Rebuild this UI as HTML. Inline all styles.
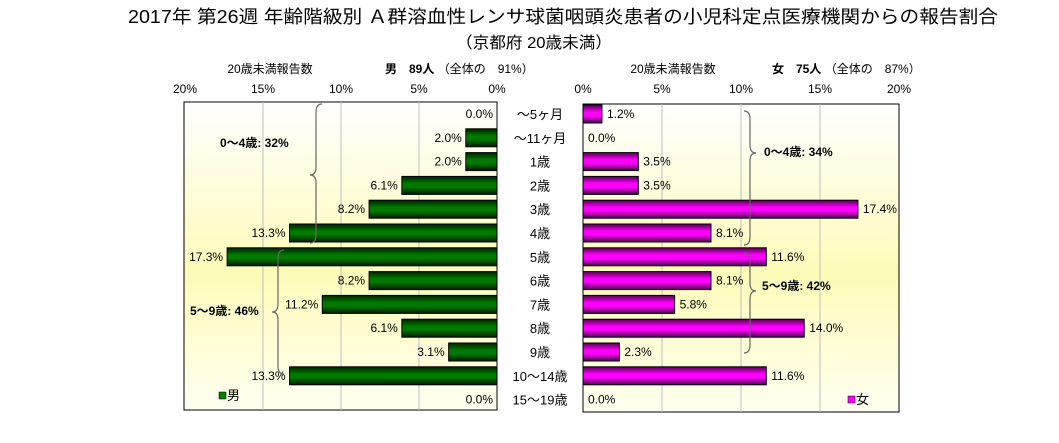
<!DOCTYPE html>
<html><head><meta charset="utf-8"><style>
body{margin:0;background:#fff;}
svg{display:block;font-family:"Liberation Sans","Noto Sans CJK JP",sans-serif;}
</style></head><body>
<svg id="chart" width="1059" height="443" viewBox="0 0 1059 443">
<defs>
<linearGradient id="bg" x1="0" y1="0" x2="0" y2="1">
<stop offset="0" stop-color="#ffffff"/><stop offset="0.55" stop-color="#fdfbb8"/><stop offset="1" stop-color="#fffff0"/>
</linearGradient>
<linearGradient id="gm" x1="0" y1="0" x2="0" y2="1">
<stop offset="0" stop-color="#002200"/><stop offset="0.4" stop-color="#007a00"/><stop offset="0.6" stop-color="#007a00"/><stop offset="1" stop-color="#001a00"/>
</linearGradient>
<linearGradient id="gf" x1="0" y1="0" x2="0" y2="1">
<stop offset="0" stop-color="#550055"/><stop offset="0.4" stop-color="#ff00ff"/><stop offset="0.6" stop-color="#ff00ff"/><stop offset="1" stop-color="#440044"/>
</linearGradient>
</defs>
<text x="128" y="23" font-size="18" textLength="870" lengthAdjust="spacingAndGlyphs">2017年 第26週 年齢階級別 Ａ群溶血性レンサ球菌咽頭炎患者の小児科定点医療機関からの報告割合</text>
<text x="456" y="48" font-size="16" textLength="156" lengthAdjust="spacingAndGlyphs">（京都府 20歳未満）</text>
<text x="270" y="73" text-anchor="middle" font-size="12">20歳未満報告数</text>
<text x="385" y="73" font-size="12"><tspan font-weight="bold">男　89人</tspan> （全体の　91%）</text>
<text x="673" y="73" text-anchor="middle" font-size="12">20歳未満報告数</text>
<text x="772" y="73" font-size="12"><tspan font-weight="bold">女　75人</tspan> （全体の　87%）</text>
<rect x="184" y="102" width="313" height="308" fill="url(#bg)" stroke="#000"/>
<rect x="583" y="104" width="316" height="308" fill="url(#bg)" stroke="#000"/>
<g id="grid"></g><g id="bars"></g><g id="labels"></g>
<g fill="none" stroke="#666" stroke-width="1.2">
<path d="M322,104 q-6,0 -6,8 v55 q0,8 -6,8 q6,0 6,8 v52 q0,8 -6,8"/>
<path d="M284,250 q-6,0 -6,8 v46 q0,8 -6,8 q6,0 6,8 v46 q0,8 6,8"/>
<path d="M744,111 q6,0 6,8 v26 q0,8 6,8 q-6,0 -6,8 v76 q0,8 -6,8"/>
<path d="M744,253 q6,0 6,8 v22 q0,8 6,8 q-6,0 -6,8 v46 q0,8 -6,8"/>
</g>
<text x="220" y="147" font-size="12" font-weight="bold">0～4歳: 32%</text>
<text x="190" y="315" font-size="12" font-weight="bold">5～9歳: 46%</text>
<text x="764" y="156" font-size="12" font-weight="bold">0～4歳: 34%</text>
<text x="762" y="290" font-size="12" font-weight="bold">5～9歳: 42%</text>
<rect x="219" y="392" width="7" height="7" fill="#008000" stroke="#000" stroke-width="0.5"/>
<text x="227" y="400" font-size="13">男</text>
<rect x="848" y="396" width="7" height="7" fill="#ff00ff" stroke="#000" stroke-width="0.5"/>
<text x="856" y="404" font-size="13">女</text>
</svg>
<script>
const categories=["～5ヶ月","～11ヶ月","1歳","2歳","3歳","4歳","5歳","6歳","7歳","8歳","9歳","10～14歳","15～19歳"];
const maleValues=[0.0,2.0,2.0,6.1,8.2,13.3,17.3,8.2,11.2,6.1,3.1,13.3,0.0];
const femaleValues=[1.2,0.0,3.5,3.5,17.4,8.1,11.6,8.1,5.8,14.0,2.3,11.6,0.0];
const tickValues=[0,5,10,15,20];
const NS="http://www.w3.org/2000/svg";
const mx=v=>497-v*15.6;
const fx=v=>583+v*15.8;
const yc=i=>114+i*23.8;
const grid=document.getElementById('grid'),bars=document.getElementById('bars'),labels=document.getElementById('labels');
function mk(tag,attrs,parent,txt){const e=document.createElementNS(NS,tag);for(const k in attrs)e.setAttribute(k,attrs[k]);if(txt!==undefined)e.textContent=txt;parent.appendChild(e);return e;}
tickValues.forEach(t=>{
  if(t>0&&t<20){
    const g1=mk('line',{x1:mx(t),x2:mx(t),y1:102,y2:410,stroke:'#c0c0c0'},grid);
    
    
    const g2=mk('line',{x1:fx(t),x2:fx(t),y1:104,y2:412,stroke:'#c0c0c0'},grid);
    
    
  }
  const a=mk('text',{x:mx(t),y:93,'text-anchor':'middle','font-size':12},labels,t+'%');
  
  
  const b=mk('text',{x:fx(t),y:93,'text-anchor':'middle','font-size':12},labels,t+'%');
  
  
});
categories.forEach((c,i)=>{
  const y=yc(i);
  const cl=mk('text',{x:540,y:y+5,'text-anchor':'middle','font-size':13},labels,c);
  
  
  const mv=maleValues[i];
  if(mv>0){
    const r=mk('rect',{x:mx(mv),y:y-9,width:497-mx(mv),height:18,fill:'url(#gm)',stroke:'#000','stroke-width':1},bars);
    
    
  }
  const ml=mk('text',{x:mx(mv)-4,y:y+4,'text-anchor':'end','font-size':12},labels,mv.toFixed(1)+'%');
  
  
  const fv=femaleValues[i];
  if(fv>0){
    const r=mk('rect',{x:583,y:y-9,width:fx(fv)-583,height:18,fill:'url(#gf)',stroke:'#000','stroke-width':1},bars);
    
    
  }
  const fl=mk('text',{x:fx(fv)+5,y:y+4,'font-size':12},labels,fv.toFixed(1)+'%');
  
  
});
</script>
</body></html>
